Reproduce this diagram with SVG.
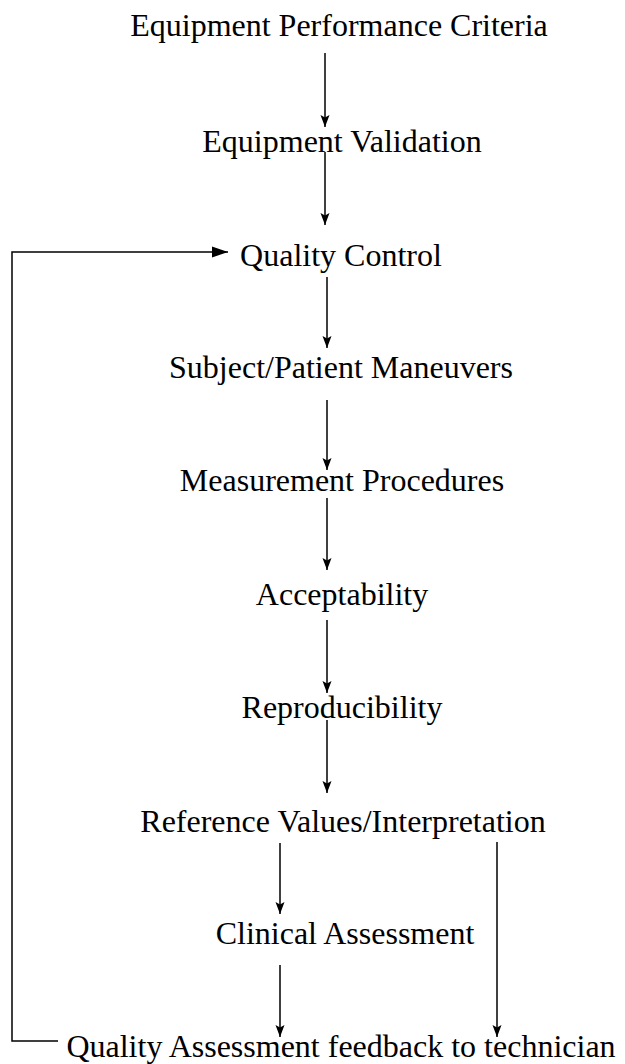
<svg xmlns="http://www.w3.org/2000/svg" width="625" height="1064" viewBox="0 0 625 1064">
<defs>
<style>
.t{font-family:"Liberation Serif","Times New Roman",serif;font-size:32px;fill:#000;text-anchor:middle}
.c{fill:none;stroke:#000;stroke-width:1.5}
</style>
<marker id="ah" markerUnits="userSpaceOnUse" markerWidth="12" markerHeight="10" refX="12" refY="5" orient="auto">
<path d="M0,0.5 L12,5 L0,9.5 L2.5,5 z" fill="#000"/>
</marker>
<marker id="ahb" markerUnits="userSpaceOnUse" markerWidth="16" markerHeight="12" refX="16" refY="6" orient="auto">
<path d="M0,0.5 L16,6 L0,11.5 z" fill="#000"/>
</marker>
</defs>
<rect width="625" height="1064" fill="#fff"/>
<g id="connectors">
<line class="c" x1="325" y1="53" x2="325" y2="127" marker-end="url(#ah)"/>
<line class="c" x1="325" y1="152" x2="325" y2="225" marker-end="url(#ah)"/>
<line class="c" x1="327" y1="277" x2="327" y2="348" marker-end="url(#ah)"/>
<line class="c" x1="327" y1="400" x2="327" y2="470" marker-end="url(#ah)"/>
<line class="c" x1="327" y1="498" x2="327" y2="570" marker-end="url(#ah)"/>
<line class="c" x1="327" y1="620" x2="327" y2="693" marker-end="url(#ah)"/>
<line class="c" x1="327" y1="720" x2="327" y2="793" marker-end="url(#ah)"/>
<line class="c" x1="280" y1="843" x2="280" y2="914" marker-end="url(#ah)"/>
<line class="c" x1="280" y1="965" x2="280" y2="1037" marker-end="url(#ah)"/>
<line class="c" x1="497" y1="842" x2="497" y2="1037" marker-end="url(#ah)"/>
<polyline class="c" points="58,1041 12,1041 12,252 228,252" marker-end="url(#ahb)"/>
</g>
<g id="n1"><text class="t" x="339" y="36">Equipment Performance Criteria</text></g>
<g id="n2"><text class="t" x="342" y="152">Equipment Validation</text></g>
<g id="n3"><text class="t" x="341" y="266">Quality Control</text></g>
<g id="n4"><text class="t" x="341" y="378">Subject/Patient Maneuvers</text></g>
<g id="n5"><text class="t" x="342" y="491">Measurement Procedures</text></g>
<g id="n6"><text class="t" x="342" y="605">Acceptability</text></g>
<g id="n7"><text class="t" x="342" y="718">Reproducibility</text></g>
<g id="n8"><text class="t" x="343" y="832">Reference Values/Interpretation</text></g>
<g id="n9"><text class="t" x="345" y="944">Clinical Assessment</text></g>
<g id="n10"><text class="t" x="341" y="1057">Quality Assessment feedback to technician</text></g>
</svg>
